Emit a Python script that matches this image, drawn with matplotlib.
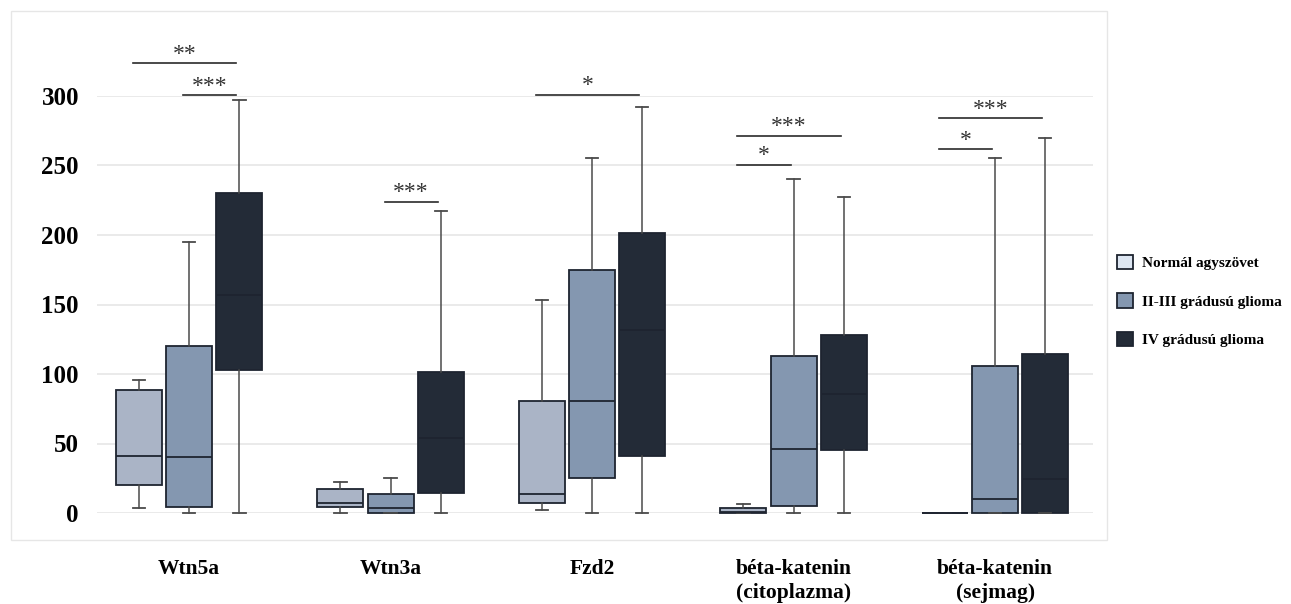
import matplotlib
matplotlib.use("Agg")
import matplotlib.pyplot as plt
from matplotlib.patches import Patch, Rectangle

categories = ["Wtn5a", "Wtn3a", "Fzd2", "béta-katenin\n(citoplazma)", "béta-katenin\n(sejmag)"]
series = ["Normál agyszövet", "II-III grádusú glioma", "IV grádusú glioma"]

# box statistics per series, one value per category
normal_lo = [3.5, 0, 2, 0, 0]
normal_q1 = [20.5, 4.5, 7, 0, 0]
normal_med = [41, 7.5, 13.5, 1, 0]
normal_q3 = [88.5, 17, 80.5, 3.5, 0]
normal_hi = [95.5, 22, 153, 6.5, 0]

mid_lo = [0, 0, 0, 0, 0]
mid_q1 = [4.5, 0, 25.5, 5.3, 0]
mid_med = [40, 3.4, 80.5, 46, 10]
mid_q3 = [120, 13.4, 175, 113, 106]
mid_hi = [195, 25.5, 255.5, 240.5, 255.5]

high_lo = [0, 0, 0, 0, 0]
high_q1 = [103, 14.2, 41, 45, 0]
high_med = [157, 53.7, 131.5, 85.4, 24.7]
high_q3 = [230, 101.7, 201.5, 128, 114.6]
high_hi = [297, 217.5, 292, 227, 270]

# significance brackets: category, series from, series to, level, label
sig_cat = [0, 0, 1, 2, 3, 3, 4, 4]
sig_from = [0, 1, 1, 0, 0, 0, 0, 0]
sig_to = [2, 2, 2, 2, 2, 1, 2, 1]
sig_y = [323.5, 300.7, 224, 301, 271.4, 250.6, 284, 261.6]
sig_lbl = ["**", "***", "***", "*", "***", "*", "***", "*"]

yticks = [0, 50, 100, 150, 200, 250, 300]

box_colors = ["#aab4c6", "#8497b0", "#232b37"]
legend_colors = ["#dde6f2", "#8497b0", "#232b37"]
edge = "#1e2430"

data = [
    (normal_lo, normal_q1, normal_med, normal_q3, normal_hi),
    (mid_lo, mid_q1, mid_med, mid_q3, mid_hi),
    (high_lo, high_q1, high_med, high_q3, high_hi),
]

W, H = 1291, 604
fig = plt.figure(figsize=(W / 100, H / 100), dpi=100)
ax = fig.add_axes([97 / W, 1 - 513 / H, (1093 - 97) / W, (513 - 96) / H])

offset = 0.249
width = 0.229

for s, (lo, q1, med, q3, hi) in enumerate(data):
    stats = []
    for i in range(len(categories)):
        stats.append(dict(whislo=lo[i], q1=q1[i], med=med[i], q3=q3[i], whishi=hi[i], fliers=[]))
    pos = [i + (s - 1) * offset for i in range(len(categories))]
    art = ax.bxp(stats, positions=pos, widths=width, patch_artist=True,
                 showfliers=False, capwidths=0.062,
                 boxprops=dict(facecolor=box_colors[s], edgecolor=edge, linewidth=1.3),
                 medianprops=dict(color=edge, linewidth=1.3),
                 whiskerprops=dict(color="#4a4a4a", linewidth=1.1),
                 capprops=dict(color="#4a4a4a", linewidth=1.3))
    for key in art:
        for a in art[key]:
            a.set_clip_on(False)
            a.set_zorder(3)

for c, a, b, y, lbl in zip(sig_cat, sig_from, sig_to, sig_y, sig_lbl):
    x0 = c + (a - 1) * offset - 0.03
    x1 = c + (b - 1) * offset - 0.015
    ax.plot([x0, x1], [y, y], color="#2a2a2a", lw=1.2, clip_on=False, zorder=4)
    ax.annotate(lbl, xy=((x0 + x1) / 2, y), xytext=(0, 2.5), textcoords="offset points",
                ha="center", va="baseline", fontsize=17, color="#333333",
                family="Liberation Serif", annotation_clip=False)

ax.set_xlim(-0.457, 4.486)
ax.set_ylim(0, 300)
ax.set_yticks(yticks)
ax.set_yticklabels([str(v) for v in yticks], fontsize=18, fontweight="bold", family="Liberation Serif")
ax.set_xticks(range(len(categories)))
ax.set_xticklabels(categories, fontsize=15.5, fontweight="bold", family="Liberation Serif",
                   linespacing=1.3)
ax.tick_params(axis="both", length=0)
ax.tick_params(axis="y", pad=13)
ax.tick_params(axis="x", pad=33)
ax.grid(axis="y", color="#e8e8e8", linewidth=1.3, zorder=0)
ax.set_axisbelow(True)
for sp in ax.spines.values():
    sp.set_visible(False)

fig.add_artist(Rectangle((11 / W, 1 - 540 / H), (1107 - 11) / W, (540 - 11) / H,
                         transform=fig.transFigure, fill=False, edgecolor="#e6e6e6", lw=1))

handles = [Patch(facecolor=legend_colors[k], edgecolor=edge, linewidth=1.3) for k in range(3)]
fig.legend(handles, series, loc="center left", bbox_to_anchor=(1117 / W, 1 - 301 / H),
           frameon=False, prop=dict(family="Liberation Serif", weight="bold", size=11),
           handlelength=1.05, handleheight=1.05, handletextpad=0.6, labelspacing=1.5,
           borderaxespad=0, borderpad=0)

fig.savefig("out.png", dpi=100)
